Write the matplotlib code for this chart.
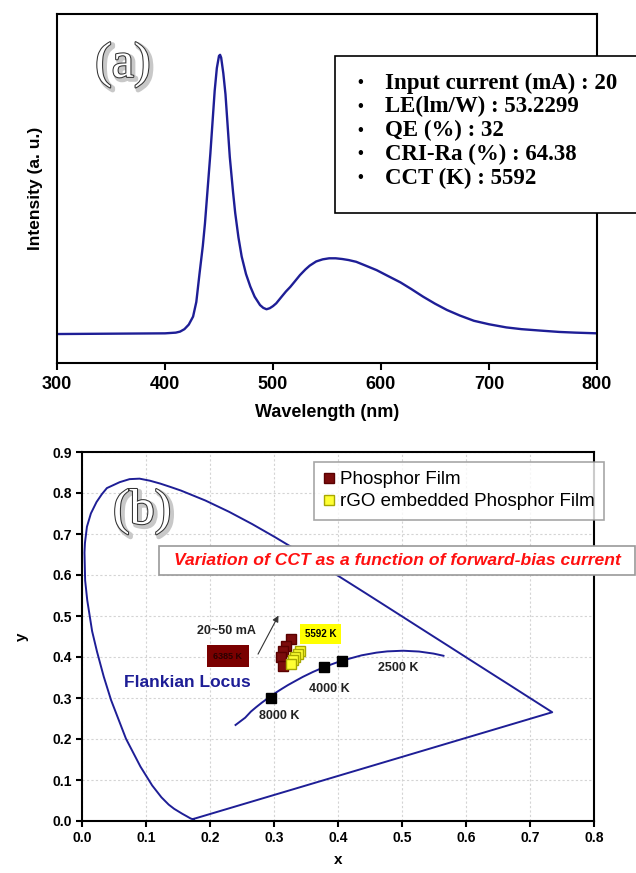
import numpy as np
import matplotlib
matplotlib.use("Agg")
import matplotlib.pyplot as plt
import matplotlib.patheffects as pe
from matplotlib.patches import Rectangle

plt.rcParams['font.family'] = ['Liberation Sans', 'DejaVu Sans']

# (a) EL spectrum (intensity as fraction of axis height)
wavelength = [300, 350, 400, 410, 414, 418, 422, 426, 429, 432, 435, 437, 440, 442,
              444, 446, 448, 450, 451, 452, 454, 456, 458, 460, 463, 465, 468, 471,
              475, 479, 483, 488, 491, 494, 497, 500, 503, 508, 512, 516, 520, 525,
              530, 534, 540, 546, 552, 558, 564, 570, 577, 585, 596, 606, 618, 628,
              639, 650, 661, 673, 686, 700, 716, 730, 747, 765, 780, 800]
intensity = [0.083, 0.084, 0.085, 0.087, 0.090, 0.097, 0.110, 0.133, 0.175, 0.257,
             0.335, 0.400, 0.520, 0.600, 0.690, 0.780, 0.845, 0.880, 0.883, 0.875,
             0.830, 0.770, 0.680, 0.590, 0.490, 0.430, 0.360, 0.305, 0.255, 0.219,
             0.190, 0.166, 0.158, 0.154, 0.157, 0.163, 0.171, 0.190, 0.205, 0.218,
             0.233, 0.252, 0.268, 0.279, 0.291, 0.297, 0.300, 0.300, 0.298, 0.295,
             0.290, 0.280, 0.266, 0.250, 0.231, 0.212, 0.190, 0.170, 0.152, 0.136,
             0.121, 0.111, 0.102, 0.097, 0.093, 0.089, 0.087, 0.085]
info_lines = ["Input current (mA) : 20", "LE(lm/W) : 53.2299", "QE (%) : 32",
              "CRI-Ra (%) : 64.38", "CCT (K) : 5592"]

# (b) CIE 1931 spectral locus
locus_x = [0.1741, 0.1733, 0.1714, 0.1689, 0.1644, 0.1566, 0.1440, 0.1355, 0.1241,
           0.1096, 0.0913, 0.0687, 0.0454, 0.0340, 0.0235, 0.0158, 0.0082, 0.0049,
           0.0039, 0.0046, 0.0077, 0.0139, 0.0227, 0.0310, 0.0389, 0.0590,
           0.0743, 0.0899, 0.1061, 0.1222, 0.1385, 0.1547, 0.1929, 0.2296, 0.2658,
           0.3016, 0.3373, 0.3731, 0.4087, 0.4441, 0.4788, 0.5125, 0.5448, 0.5752,
           0.6029, 0.6270, 0.6482, 0.6658, 0.6915, 0.7079, 0.7190, 0.7260, 0.7300,
           0.7334, 0.7347]
locus_y = [0.0050, 0.0048, 0.0051, 0.0069, 0.0109, 0.0177, 0.0297, 0.0399, 0.0578,
           0.0868, 0.1327, 0.2007, 0.2950, 0.3520, 0.4127, 0.4630, 0.5384, 0.5868,
           0.6548, 0.6780, 0.7177, 0.7502, 0.7780, 0.7970, 0.8120, 0.8265,
           0.8338, 0.8350, 0.8300, 0.8230, 0.8146, 0.8059, 0.7816, 0.7543, 0.7243,
           0.6923, 0.6589, 0.6245, 0.5896, 0.5547, 0.5202, 0.4866, 0.4544, 0.4242,
           0.3965, 0.3725, 0.3514, 0.3340, 0.3083, 0.2920, 0.2809, 0.2740, 0.2700,
           0.2666, 0.2653]
# Planckian locus
planck_x = [0.2399, 0.2550, 0.2640, 0.2720, 0.2807, 0.2952, 0.3064, 0.3135, 0.3221,
            0.3325, 0.3451, 0.3608, 0.3805, 0.4053, 0.4369, 0.4599, 0.4770, 0.5018,
            0.5267, 0.5494, 0.5648]
planck_y = [0.2342, 0.2520, 0.2670, 0.2775, 0.2883, 0.3048, 0.3166, 0.3236, 0.3318,
            0.3408, 0.3516, 0.3635, 0.3768, 0.3907, 0.4041, 0.4106, 0.4137, 0.4153,
            0.4133, 0.4083, 0.4030]
ref_x = [0.295, 0.378, 0.406]
ref_y = [0.300, 0.376, 0.391]
ref_labels = ["8000 K", "4000 K", "2500 K"]
ref_label_x = [0.308, 0.387, 0.494]
ref_label_y = [0.256, 0.323, 0.372]
phosphor_x = [0.326, 0.319, 0.314, 0.311, 0.314]
phosphor_y = [0.443, 0.428, 0.414, 0.400, 0.378]
rgo_x = [0.341, 0.337, 0.333, 0.329, 0.326]
rgo_y = [0.415, 0.408, 0.400, 0.392, 0.383]

navy = '#1e1e96'
W, H = 636, 873

fig = plt.figure(figsize=(W / 100, H / 100), dpi=100)

def panel_label(ax, x, y, s, transform):
    ax.text(x, y, s, transform=transform, fontsize=36, family='Liberation Serif',
            color='white', ha='center', va='center', zorder=5,
            path_effects=[pe.Stroke(linewidth=3.5, foreground='#c8c8c8', offset=(1.8, -1.8)),
                          pe.Stroke(linewidth=1.5, foreground='#333333'), pe.Normal()])

# ---- (a) ----
ax1 = fig.add_axes([57 / W, 1 - 363 / H, 540 / W, 349 / H])
ax1.plot(wavelength, intensity, color=navy, lw=1.7)
ax1.set_xlim(300, 800)
ax1.set_ylim(0, 1)
ax1.set_yticks([])
ax1.set_xticks(range(300, 801, 100))
ax1.tick_params(axis='x', direction='out', length=5, width=1.5, labelsize=13, pad=4)
for t in ax1.get_xticklabels():
    t.set_fontweight('bold')
ax1.set_xlabel("Wavelength (nm)", fontsize=13, fontweight='bold', labelpad=8)
ax1.set_ylabel("Intensity (a. u.)", fontsize=12.5, fontweight='bold', labelpad=10)
for s in ax1.spines.values():
    s.set_linewidth(1.5)
panel_label(ax1, 0.122, 0.855, "(a)", ax1.transAxes)

box = Rectangle((335 / W, 1 - 213 / H), 0.6, 157 / H, transform=fig.transFigure,
                facecolor='white', edgecolor='black', lw=1.2, zorder=3)
fig.add_artist(box)
for i, line in enumerate(info_lines):
    yy = 1 - (83 + i * 23.75) / H
    fig.text(360 / W, yy, "\u2022", fontsize=12, family='Liberation Serif', fontweight='bold',
             ha='center', va='center', zorder=4)
    fig.text(385 / W, yy, line, fontsize=16.5, family='Liberation Serif', fontweight='bold',
             ha='left', va='center', zorder=4)

# ---- (b) ----
ax2 = fig.add_axes([82 / W, 1 - 821 / H, 512 / W, 369 / H])
ax2.plot(locus_x + [locus_x[0]], locus_y + [locus_y[0]], color=navy, lw=1.4)
ax2.plot(planck_x, planck_y, color=navy, lw=1.4)
ax2.plot(ref_x, ref_y, 's', color='black', ms=6.5)
for lx, ly, lab in zip(ref_label_x, ref_label_y, ref_labels):
    ax2.text(lx, ly, lab, fontsize=9, fontweight='bold', color='#222222', ha='center', va='center')
ax2.plot(phosphor_x, phosphor_y, 's', color='#7b0c0c', mec='#5a0000', ms=6.5, label='Phosphor Film')
ax2.plot(rgo_x, rgo_y, 's', color='#ffff33', mec='#a8a800', ms=6.5, label='rGO embedded Phosphor Film')

ax2.set_xlim(0, 0.8)
ax2.set_ylim(0, 0.9)
ax2.set_xticks(np.arange(0, 0.81, 0.1))
ax2.set_yticks(np.arange(0, 0.91, 0.1))
ax2.set_xticklabels(["%.1f" % v for v in np.arange(0, 0.81, 0.1)])
ax2.set_yticklabels(["%.1f" % v for v in np.arange(0, 0.91, 0.1)])
ax2.tick_params(direction='out', length=4, width=1.5, labelsize=10, pad=3)
for t in ax2.get_xticklabels() + ax2.get_yticklabels():
    t.set_fontweight('bold')
ax2.grid(True, color='#d4d4d4', linestyle=(0, (2, 2)), lw=0.8)
ax2.set_axisbelow(True)
for s in ax2.spines.values():
    s.set_linewidth(1.5)
ax2.set_xlabel("x", fontsize=11, fontweight='bold', labelpad=6)
ax2.set_ylabel("y", fontsize=11, fontweight='bold', labelpad=17)

leg = ax2.legend(loc='upper left', bbox_to_anchor=(0.453, 0.973), fontsize=13.5,
                 fancybox=False, edgecolor='#909090', handlelength=0.6, handletextpad=0.3,
                 borderpad=0.5, labelspacing=0.25, borderaxespad=0)
leg.get_frame().set_linewidth(1.2)

# red note with its frame
note_box = Rectangle((0.150, 0.667), 0.93, 0.078, transform=ax2.transAxes, clip_on=False,
                     facecolor='white', edgecolor='#999999', lw=1.2, zorder=5)
ax2.add_patch(note_box)
ax2.text(0.616, 0.706, "Variation of CCT as a function of forward-bias current", fontsize=12.6,
         fontweight='bold', style='italic', color='#ff1010', ha='center', va='center', zorder=6,
         transform=ax2.transAxes, clip_on=False)

ax2.text(0.228, 0.402, "6385 K", fontsize=6.5, fontweight='bold', color='#2a0000', ha='center',
         va='center', bbox=dict(boxstyle='square,pad=0.7', facecolor='#7a0000', edgecolor='none'))
ax2.text(0.373, 0.456, "5592 K", fontsize=7, fontweight='bold', color='black', ha='center',
         va='center', bbox=dict(boxstyle='square,pad=0.5', facecolor='#ffff00', edgecolor='none'))
ax2.annotate("", xy=(0.309, 0.507), xytext=(0.273, 0.401),
             arrowprops=dict(arrowstyle='-|>', color='#333333', lw=0.8, mutation_scale=9))
ax2.text(0.226, 0.464, "20~50 mA", fontsize=9, fontweight='bold', color='#222222',
         ha='center', va='center')
ax2.text(0.165, 0.338, "Flankian Locus", fontsize=12.5, fontweight='bold', color=navy,
         ha='center', va='center')
panel_label(ax2, 0.094, 0.755, "(b)", ax2.transData)

fig.savefig("out.png", dpi=100)
